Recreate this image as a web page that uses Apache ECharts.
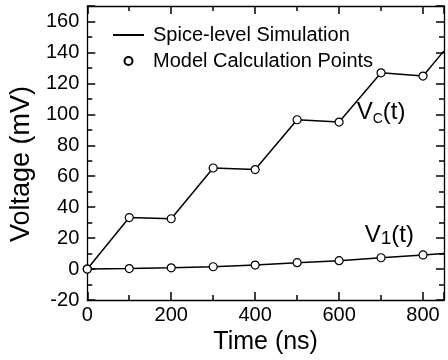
<!DOCTYPE html>
<html>
<head>
<meta charset="utf-8">
<script src="https://cdn.jsdelivr.net/npm/echarts@6/dist/echarts.min.js"></script>
<style>
    html, body { margin: 0; padding: 0; background: #fff; }
    #main { width: 448px; height: 360px; }
</style>
</head>
<body>
<div id="main"></div>
<script>
    // spice-level simulation (continuous line)
    const simTime = [0, 100, 200, 300, 400, 500, 600, 700, 800, 850]
    const simVc = [0, 33.3, 32.5, 65.3, 64.3, 96.5, 95, 126.8, 124.7, 141]
    const simV1 = [0, 0.3, 0.8, 1.5, 2.6, 4.1, 5.4, 7.3, 9.1, 10.1]

    // model calculation points (open circles)
    const modelTime = [0, 100, 200, 300, 400, 500, 600, 700, 800]
    const modelVc = [0, 33.3, 32.5, 65.3, 64.3, 96.5, 95, 126.8, 124.7]
    const modelV1 = [0, 0.3, 0.8, 1.5, 2.6, 4.1, 5.4, 7.3, 9.1]

    // curve labels: [time, voltage] anchor of the text
    const vcLabelAt = [642, 101]
    const v1LabelAt = [661, 22]

    const FONT = "'Liberation Sans', Arial, sans-serif"

    const pairs = (xs, ys) => xs.map((x, i) => [x, ys[i]])

    const myChart = echarts.init(document.getElementById("main"), null, { renderer: "canvas" })

    // every axis gets its own fresh objects (box frame, ticks pointing in)
    function frameAxis(min, max, interval, extra) {
        return Object.assign({
            type: "value",
            min: min,
            max: max,
            interval: interval,
            axisLine: { show: true, onZero: false, lineStyle: { color: "#000", width: 1.3 } },
            axisTick: { show: true, inside: true, length: 8, lineStyle: { color: "#000", width: 1.5 } },
            minorTick: { show: true, splitNumber: 2, length: 5, lineStyle: { color: "#000", width: 1.5 } },
            splitLine: { show: false },
        }, extra)
    }

    const options = {
        animation: false,
        backgroundColor: "#fff",
        textStyle: { fontFamily: FONT, color: "#000" },
        grid: { left: 86, right: 4, top: 6, bottom: 60 },
        legend: {
            orient: "vertical",
            left: 107,
            top: 20,
            itemWidth: 31,
            itemHeight: 8,
            itemGap: 6,
            textStyle: { fontFamily: FONT, fontSize: 20, color: "#000", padding: [0, 0, 0, 4] },
            data: [
                { name: "Spice-level Simulation", itemStyle: { opacity: 0 } },
                { name: "Model Calculation Points" },
            ],
        },
        xAxis: [
            frameAxis(0, 850, 200, {
                position: "bottom",
                name: "Time (ns)",
                nameLocation: "middle",
                nameGap: 21,
                nameTextStyle: { fontFamily: FONT, fontSize: 25, color: "#000" },
                axisLabel: { fontFamily: FONT, fontSize: 20, color: "#000", margin: 5, showMaxLabel: false },
            }),
            frameAxis(0, 850, 200, {
                position: "top",
                axisLabel: { show: false },
            }),
        ],
        yAxis: [
            frameAxis(-20, 170, 20, {
                position: "left",
                name: "Voltage (mV)",
                nameLocation: "middle",
                nameGap: 46,
                nameTextStyle: { fontFamily: FONT, fontSize: 27, color: "#000", padding: [0, 22, 0, 0] },
                axisLabel: { fontFamily: FONT, fontSize: 20, color: "#000", margin: 8, showMaxLabel: false },
            }),
            frameAxis(-20, 170, 20, {
                position: "right",
                axisLabel: { show: false },
            }),
        ],
        series: [
            {
                name: "Spice-level Simulation",
                type: "line",
                symbol: "none",
                data: pairs(simTime, simVc),
                lineStyle: { color: "#000", width: 1.5 },
                itemStyle: { color: "#000" },
                z: 2,
            },
            {
                name: "Spice-level Simulation",
                type: "line",
                symbol: "none",
                data: pairs(simTime, simV1),
                lineStyle: { color: "#000", width: 1.5 },
                itemStyle: { color: "#000" },
                z: 2,
            },
            {
                name: "Model Calculation Points",
                type: "scatter",
                symbol: "circle",
                symbolSize: 8,
                data: pairs(modelTime, modelVc),
                itemStyle: { color: "#fff", borderColor: "#000", borderWidth: 1.2, opacity: 1 },
                z: 3,
            },
            {
                name: "Model Calculation Points",
                type: "scatter",
                symbol: "circle",
                symbolSize: 8,
                data: pairs(modelTime, modelV1),
                itemStyle: { color: "#fff", borderColor: "#000", borderWidth: 1.2, opacity: 1 },
                z: 3,
            },
        ],
    }

    myChart.setOption(options, true)

    // curve labels with subscripts, placed from data coordinates
    function curveLabel(at, sub, subStyle) {
        const p = myChart.convertToPixel({ xAxisIndex: 0, yAxisIndex: 0 }, at)
        return {
            type: "text",
            x: p[0],
            y: p[1],
            z: 10,
            style: {
                text: "{v|V}{s|" + sub + "}{v|(t)}",
                verticalAlign: "middle",
                rich: {
                    v: { fontFamily: FONT, fontSize: 24, lineHeight: 26, verticalAlign: "middle", fill: "#000" },
                    s: Object.assign({ fontFamily: FONT, fill: "#000", verticalAlign: "bottom" }, subStyle),
                },
            },
        }
    }

    myChart.setOption({
        graphic: [
            curveLabel(vcLabelAt, "C", { fontSize: 14, lineHeight: 16 }),
            curveLabel(v1LabelAt, "1", { fontSize: 19, lineHeight: 14 }),
        ],
    })
</script>
</body>
</html>
